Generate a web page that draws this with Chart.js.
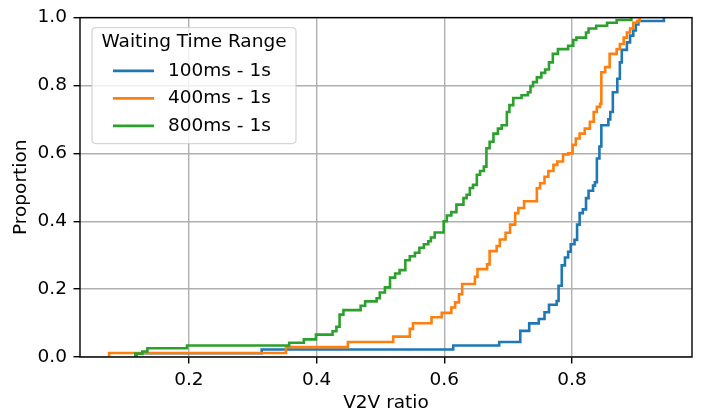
<!DOCTYPE html>
<html><head><meta charset="utf-8">
<script src="https://cdn.jsdelivr.net/npm/chart.js@4.4.1/dist/chart.umd.min.js"></script>
<style>html,body{margin:0;padding:0;background:#fff}#wrap{width:704px;height:416px}</style>
</head><body><div id="wrap"><canvas id="c" width="704" height="416"></canvas></div>
<script>
// ---------- data ----------
const seriesNames = ['100ms - 1s', '400ms - 1s', '800ms - 1s'];
const legendTitle = 'Waiting Time Range';
const xTickValues = [0.2, 0.4, 0.6, 0.8];
const yTickValues = [0.0, 0.2, 0.4, 0.6, 0.8, 1.0];

const blueX = [0.118,0.118,0.314,0.614,0.686,0.719,0.733,0.748,0.757,0.764,0.776,0.779,0.784,0.789,0.794,0.798,0.804,0.808,0.812,0.817,0.822,0.826,0.833,0.836,0.839,0.843,0.846,0.857,0.860,0.864,0.871,0.875,0.878,0.886,0.891,0.896,0.900,0.904,0.944];
const blueY = [0,0.011,0.022,0.034,0.044,0.077,0.099,0.112,0.132,0.154,0.165,0.210,0.270,0.293,0.310,0.332,0.345,0.390,0.424,0.435,0.468,0.490,0.505,0.515,0.585,0.620,0.683,0.700,0.722,0.780,0.820,0.868,0.905,0.927,0.947,0.962,0.980,0.990,1.0];

const orangeX = [0.075,0.075,0.352,0.449,0.520,0.546,0.551,0.580,0.596,0.611,0.617,0.623,0.628,0.648,0.652,0.667,0.671,0.682,0.687,0.696,0.703,0.711,0.716,0.725,0.745,0.750,0.757,0.763,0.771,0.777,0.786,0.794,0.801,0.806,0.812,0.820,0.828,0.834,0.839,0.844,0.846,0.852,0.859,0.870,0.875,0.881,0.886,0.891,0.896,0.902,0.906];
const orangeY = [0,0.012,0.029,0.044,0.060,0.083,0.0995,0.117,0.130,0.146,0.161,0.185,0.215,0.236,0.259,0.273,0.312,0.327,0.346,0.366,0.390,0.424,0.439,0.459,0.497,0.512,0.531,0.548,0.566,0.576,0.597,0.600,0.625,0.644,0.658,0.673,0.693,0.722,0.737,0.746,0.839,0.854,0.893,0.907,0.922,0.941,0.956,0.968,0.985,0.990,1.0];

const greenX = [0.116,0.116,0.127,0.135,0.197,0.357,0.380,0.399,0.425,0.431,0.436,0.442,0.469,0.476,0.494,0.499,0.507,0.515,0.523,0.530,0.539,0.546,0.554,0.561,0.568,0.575,0.579,0.585,0.599,0.604,0.611,0.619,0.630,0.635,0.640,0.645,0.651,0.656,0.662,0.666,0.671,0.677,0.684,0.690,0.698,0.702,0.708,0.721,0.731,0.735,0.739,0.745,0.752,0.758,0.764,0.770,0.778,0.794,0.802,0.807,0.822,0.826,0.838,0.855,0.870,0.893];
const greenY = [0,0.010,0.016,0.026,0.034,0.042,0.052,0.066,0.076,0.089,0.125,0.138,0.151,0.164,0.173,0.190,0.205,0.234,0.246,0.256,0.285,0.297,0.307,0.322,0.332,0.341,0.352,0.367,0.400,0.417,0.427,0.449,0.468,0.478,0.498,0.507,0.537,0.548,0.561,0.615,0.634,0.658,0.673,0.683,0.722,0.742,0.763,0.771,0.780,0.798,0.810,0.824,0.837,0.847,0.868,0.893,0.907,0.917,0.934,0.941,0.956,0.968,0.976,0.985,0.993,1.0];

const colors = ['#1f77b4', '#ff7f0e', '#2ca02c'];
// ----------------------------------------------------

const FONT = '"DejaVu Sans", sans-serif';
const FS = 18.5;
const LW = 2.6;
const toPts = (xs, ys) => xs.map((x, i) => ({x: x, y: ys[i]}));
const seriesData = [toPts(blueX, blueY), toPts(orangeX, orangeY), toPts(greenX, greenY)];

const frameAndLegend = {
  id: 'frameAndLegend',
  afterDatasetsDraw(chart) {
    const {ctx, chartArea: a} = chart;
    ctx.save();
    ctx.strokeStyle = '#000';
    ctx.lineWidth = 1.4;
    ctx.strokeRect(a.left, a.top, a.right - a.left, a.bottom - a.top);
    ctx.restore();
  },
  afterDraw(chart) {
    const {ctx, chartArea: a} = chart;
    const x0 = a.left + 12, y0 = a.top + 10, w = 204, h = 116, r = 4;
    ctx.save();
    ctx.beginPath();
    ctx.moveTo(x0 + r, y0);
    ctx.lineTo(x0 + w - r, y0); ctx.quadraticCurveTo(x0 + w, y0, x0 + w, y0 + r);
    ctx.lineTo(x0 + w, y0 + h - r); ctx.quadraticCurveTo(x0 + w, y0 + h, x0 + w - r, y0 + h);
    ctx.lineTo(x0 + r, y0 + h); ctx.quadraticCurveTo(x0, y0 + h, x0, y0 + h - r);
    ctx.lineTo(x0, y0 + r); ctx.quadraticCurveTo(x0, y0, x0 + r, y0);
    ctx.closePath();
    ctx.fillStyle = 'rgba(255,255,255,0.8)';
    ctx.fill();
    ctx.strokeStyle = 'rgba(204,204,204,0.8)';
    ctx.lineWidth = 1.3;
    ctx.stroke();
    ctx.fillStyle = '#000';
    ctx.font = FS + 'px ' + FONT;
    ctx.textBaseline = 'middle';
    ctx.textAlign = 'center';
    ctx.fillText(legendTitle, x0 + w / 2, y0 + 15);
    ctx.textAlign = 'left';
    chart.data.datasets.forEach((ds, i) => {
      const yy = y0 + 43.3 + i * 27.5;
      ctx.strokeStyle = ds.borderColor;
      ctx.lineWidth = LW;
      ctx.beginPath(); ctx.moveTo(x0 + 21, yy); ctx.lineTo(x0 + 62, yy); ctx.stroke();
      ctx.fillStyle = '#000';
      ctx.fillText(ds.label, x0 + 76, yy);
    });
    ctx.restore();
  }
};

new Chart(document.getElementById('c'), {
  type: 'line',
  data: {
    datasets: seriesNames.map((name, i) => ({
      label: name,
      data: seriesData[i],
      borderColor: colors[i],
      backgroundColor: colors[i],
      borderWidth: LW,
      pointRadius: 0,
      stepped: 'before',
      fill: false,
      clip: 0,
      order: 2 - i
    }))
  },
  options: {
    responsive: false,
    animation: false,
    devicePixelRatio: 1,
    layout: {padding: {top: 15, right: 12, left: 0, bottom: 0}},
    plugins: {legend: {display: false}, tooltip: {enabled: false}},
    scales: {
      x: {
        type: 'linear', min: 0.0294, max: 0.988,
        afterBuildTicks: s => { s.ticks = xTickValues.map(v => ({value: v})); },
        afterFit: s => { s.height = 59; },
        ticks: {color: '#000', font: {family: FONT, size: FS}, padding: 6, maxRotation: 0,
                callback: v => Number(v).toFixed(1)},
        grid: {color: '#b0b0b0', lineWidth: 1.4, tickColor: '#000', tickLength: 6.5, tickWidth: 1.4},
        border: {display: false},
        title: {display: true, text: 'V2V ratio', color: '#000', font: {family: FONT, size: FS}, padding: {top: 0, bottom: 2}}
      },
      y: {
        type: 'linear', min: 0, max: 1,
        afterBuildTicks: s => { s.ticks = yTickValues.map(v => ({value: v})); },
        afterFit: s => { s.width = 80; },
        ticks: {color: '#000', font: {family: FONT, size: FS}, padding: 6.5,
                callback: v => Number(v).toFixed(1)},
        grid: {color: '#b0b0b0', lineWidth: 1.4, tickColor: '#000', tickLength: 6.5, tickWidth: 1.4},
        border: {display: false},
        title: {display: true, text: 'Proportion', color: '#000', font: {family: FONT, size: FS}, padding: {top: 10, bottom: 0}}
      }
    }
  },
  plugins: [frameAndLegend]
});
</script></body></html>
